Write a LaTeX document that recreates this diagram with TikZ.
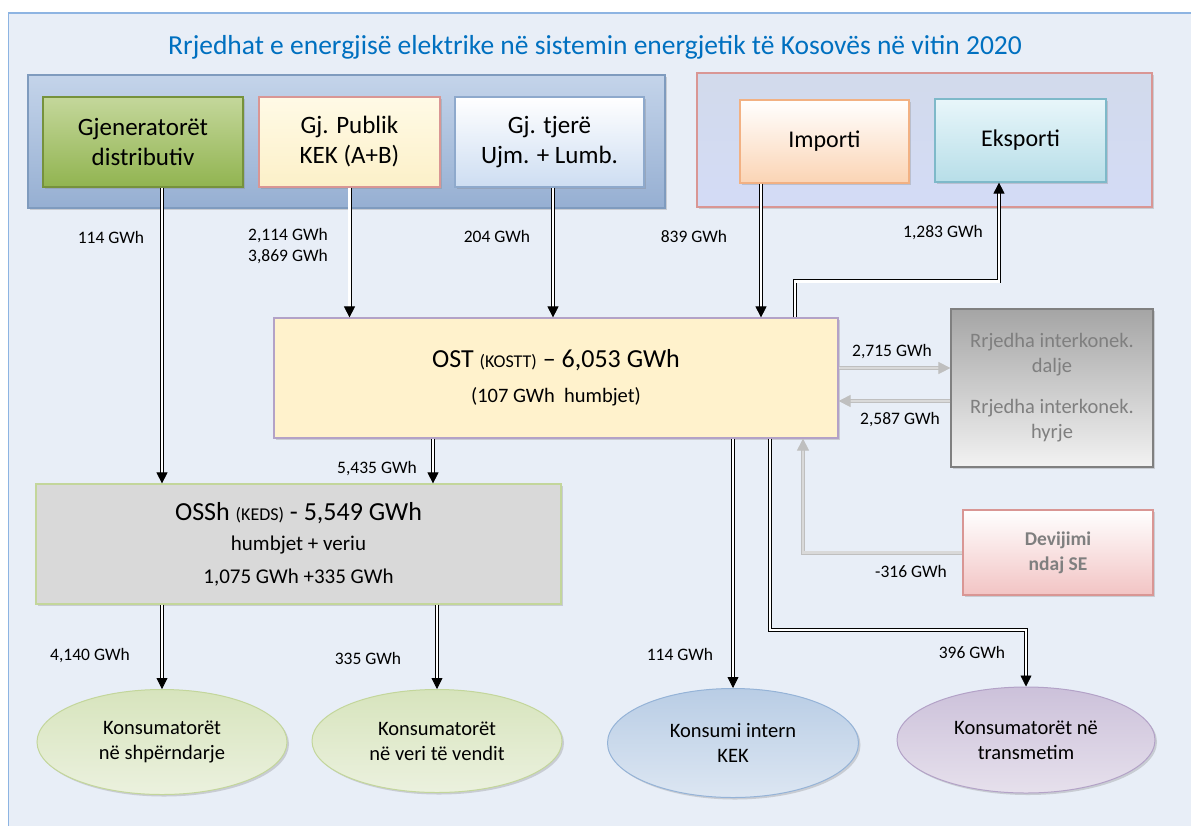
\documentclass[tikz,border=0pt]{standalone}
\usepackage{fontspec}
\setmainfont{Carlito}
\usetikzlibrary{arrows.meta,shapes.geometric,shadows}

\definecolor{bgblue}{HTML}{E8EEF7}
\definecolor{framecol}{HTML}{8DB4E2}
\definecolor{titlecol}{HTML}{0070C0}
\definecolor{txtgray}{HTML}{7F7F7F}

\tikzset{
  unit/.style={rectangle, align=center, line width=1.2pt, font=\fontsize{25}{30}\selectfont,
    drop shadow={opacity=0.3, shadow xshift=2pt, shadow yshift=-2pt}},
  oval/.style={ellipse, align=center, line width=1pt, inner sep=0pt, font=\fontsize{20.5}{25}\selectfont,
    drop shadow={opacity=0.3, shadow xshift=2pt, shadow yshift=-2pt}},
  lbl/.style={font=\fontsize{17.5}{21}\selectfont, inner sep=0pt},
  flow/.style={draw=black, line width=0.8pt, double=white, double distance=2.4pt, -{Triangle[length=11pt,width=11pt]}},
  gflow/.style={draw=black!25, line width=0.8pt, double=white!85!black, double distance=2.4pt, -{Triangle[length=12pt,width=12pt]}}
}

\begin{document}
\begin{tikzpicture}[x=1pt, y=-1pt]

% Background
\useasboundingbox (0,0) rectangle (1191,825);
\fill[white] (0,0) rectangle (1191,825);
\filldraw[fill=bgblue, draw=framecol, line width=1.2pt] (8.5,13) rectangle (1200,835);

% Title
\node[text=titlecol, font=\fontsize{27.5}{32}\selectfont] (title) at (595,47) {Rrjedhat e energjisë elektrike në sistemin energjetik të Kosovës në vitin 2020};

% Groups
\node[draw={rgb,255:red,127;green,155;blue,190}, top color={rgb,255:red,196;green,212;blue,234}, bottom color={rgb,255:red,150;green,175;blue,210}, line width=1.5pt, minimum width=637pt, minimum height=133pt, drop shadow={opacity=0.3, shadow xshift=2pt, shadow yshift=-2pt}] (gensys) at (346.5,141.5) {};
\node[draw={rgb,255:red,217;green,150;blue,148}, top color={rgb,255:red,210;green,218;blue,235}, bottom color={rgb,255:red,211;green,219;blue,246}, line width=1.5pt, minimum width=455pt, minimum height=134pt, drop shadow={opacity=0.3, shadow xshift=2pt, shadow yshift=-2pt}] (trade) at (924.5,140) {};

% Generation
\node[unit, draw={rgb,255:red,118;green,146;blue,60}, top color={rgb,255:red,196;green,215;blue,155}, bottom color={rgb,255:red,145;green,180;blue,80}, minimum width=200pt, minimum height=90pt] (gjd) at (143,142) {Gjeneratorët\\distributiv};
\node[unit, draw={rgb,255:red,217;green,150;blue,148}, top color={rgb,255:red,255;green,250;blue,230}, bottom color={rgb,255:red,252;green,240;blue,200}, minimum width=181pt, minimum height=90pt] (gjp) at (349.5,142) {Gj. Publik\\KEK (A+B)};
\node[unit, draw={rgb,255:red,142;green,169;blue,204}, top color=white, bottom color={rgb,255:red,205;green,221;blue,242}, minimum width=189pt, minimum height=90pt] (gjt) at (549.5,142) {Gj. tjerë\\Ujm. + Lumb.};

% Import / export
\node[unit, draw={rgb,255:red,242;green,177;blue,131}, top color=white, bottom color={rgb,255:red,251;green,212;blue,180}, minimum width=169pt, minimum height=83pt, font=\fontsize{24}{29}\selectfont] (imp) at (824.5,141.5) {Importi};
\node[unit, draw={rgb,255:red,126;green,185;blue,201}, top color={rgb,255:red,232;green,246;blue,250}, bottom color={rgb,255:red,183;green,222;blue,232}, minimum width=171pt, minimum height=83pt, font=\fontsize{24}{29}\selectfont] (eks) at (1020.5,140.5) {Eksporti};

% Operators
\node[unit, draw={rgb,255:red,179;green,162;blue,199}, fill={rgb,255:red,255;green,242;blue,204}, minimum width=564pt, minimum height=120pt, font=\fontsize{26}{31}\selectfont] (ost) at (556,378) {OST {\fontsize{18}{20}\selectfont(KOSTT)} -- 6,053 GWh\\[4pt]{\fontsize{20.5}{24}\selectfont(107 GWh\ \ humbjet)}};
\node[unit, draw={rgb,255:red,195;green,214;blue,155}, fill={rgb,255:red,217;green,217;blue,217}, minimum width=525pt, minimum height=120pt, font=\fontsize{26}{30}\selectfont] (ossh) at (298.5,544) {OSSh {\fontsize{18}{20}\selectfont(KEDS)} - 5,549 GWh\\{\fontsize{21}{25}\selectfont humbjet + veriu}\\[3pt]{\fontsize{21}{25}\selectfont 1,075 GWh +335 GWh}};
\node[unit, draw={rgb,255:red,128;green,128;blue,128}, text=txtgray, shading angle=45, top color={rgb,255:red,165;green,165;blue,165}, bottom color={rgb,255:red,242;green,242;blue,242}, minimum width=202pt, minimum height=158pt, font=\fontsize{20.5}{25}\selectfont] (ric) at (1052,388) {Rrjedha interkonek.\\dalje\\[16pt]Rrjedha interkonek.\\hyrje};
\node[unit, draw={rgb,255:red,217;green,150;blue,148}, text=txtgray, top color=white, bottom color={rgb,255:red,242;green,196;blue,196}, minimum width=190pt, minimum height=85pt, font=\bfseries\fontsize{19.5}{25}\selectfont] (dev) at (1058,552.5) {Devijimi\\ndaj SE};

% Consumers
\node[oval, draw={rgb,255:red,195;green,214;blue,155}, top color={rgb,255:red,215;green,228;blue,189}, bottom color={rgb,255:red,235;green,241;blue,222}, minimum width=250pt, minimum height=105pt] (el1) at (162,742) {Konsumatorët\\në shpërndarje};
\node[oval, draw={rgb,255:red,195;green,214;blue,155}, top color={rgb,255:red,215;green,228;blue,189}, bottom color={rgb,255:red,235;green,241;blue,222}, minimum width=250pt, minimum height=103pt] (el2) at (437,741) {Konsumatorët\\në veri të vendit};
\node[oval, draw={rgb,255:red,149;green,179;blue,215}, top color={rgb,255:red,185;green,205;blue,229}, bottom color={rgb,255:red,220;green,230;blue,242}, minimum width=251pt, minimum height=109pt] (el3) at (733,743) {Konsumi intern\\KEK};
\node[oval, draw={rgb,255:red,179;green,162;blue,199}, top color={rgb,255:red,204;green,193;blue,218}, bottom color={rgb,255:red,230;green,224;blue,236}, minimum width=258pt, minimum height=106pt] (el4) at (1026,740) {Konsumatorët në\\transmetim};

% Flows
\draw[flow] (el1.north |- gjd.south) -- (el1.north |- ossh.north);
\draw[flow] (gjp.south) -- (gjp.south |- ost.north);
\draw[flow] (553,0 |- gjt.south) -- (553,0 |- ost.north);
\draw[flow] (761,0 |- imp.south) -- (761,0 |- ost.north);
\draw[flow] (795,0 |- ost.north) -- ++(0,-36) -| (999,0 |- eks.south);
\draw[flow] (433,0 |- ost.south) -- (433,0 |- ossh.north);
\draw[flow] (el3.north |- ost.south) -- (el3.north);
\draw[flow] (770,0 |- ost.south) -- (770,630) -| (el4.north);
\draw[flow] (el1.north |- ossh.south) -- (el1.north);
\draw[flow] (el2.north |- ossh.south) -- (el2.north);
\draw[gflow] (ost.east |- 0,368) -- (ric.west |- 0,368);
\draw[gflow] (ric.west |- 0,401) -- (ost.east |- 0,401);
\draw[gflow] (dev.west) -| (803,0 |- ost.south);

% Labels
\node[lbl] (l1) at (111,237) {114 GWh};
\node[lbl, align=center] (l2) at (288,246) {2,114 GWh\\3,869 GWh};
\node[lbl] (l3) at (497,236) {204 GWh};
\node[lbl] (l4) at (694,236) {839 GWh};
\node[lbl] (l5) at (943,233) {1,283 GWh};
\node[lbl] (l6) at (892,352) {2,715 GWh};
\node[lbl] (l7) at (900,420) {2,587 GWh};
\node[lbl] (l8) at (911,571) {-316 GWh};
\node[lbl] (l9) at (377,469) {5,435 GWh};
\node[lbl] (l10) at (90,656) {4,140 GWh};
\node[lbl] (l11) at (368,658) {335 GWh};
\node[lbl] (l12) at (680,654) {114 GWh};
\node[lbl] (l13) at (972,652) {396 GWh};

\end{tikzpicture}
\end{document}
